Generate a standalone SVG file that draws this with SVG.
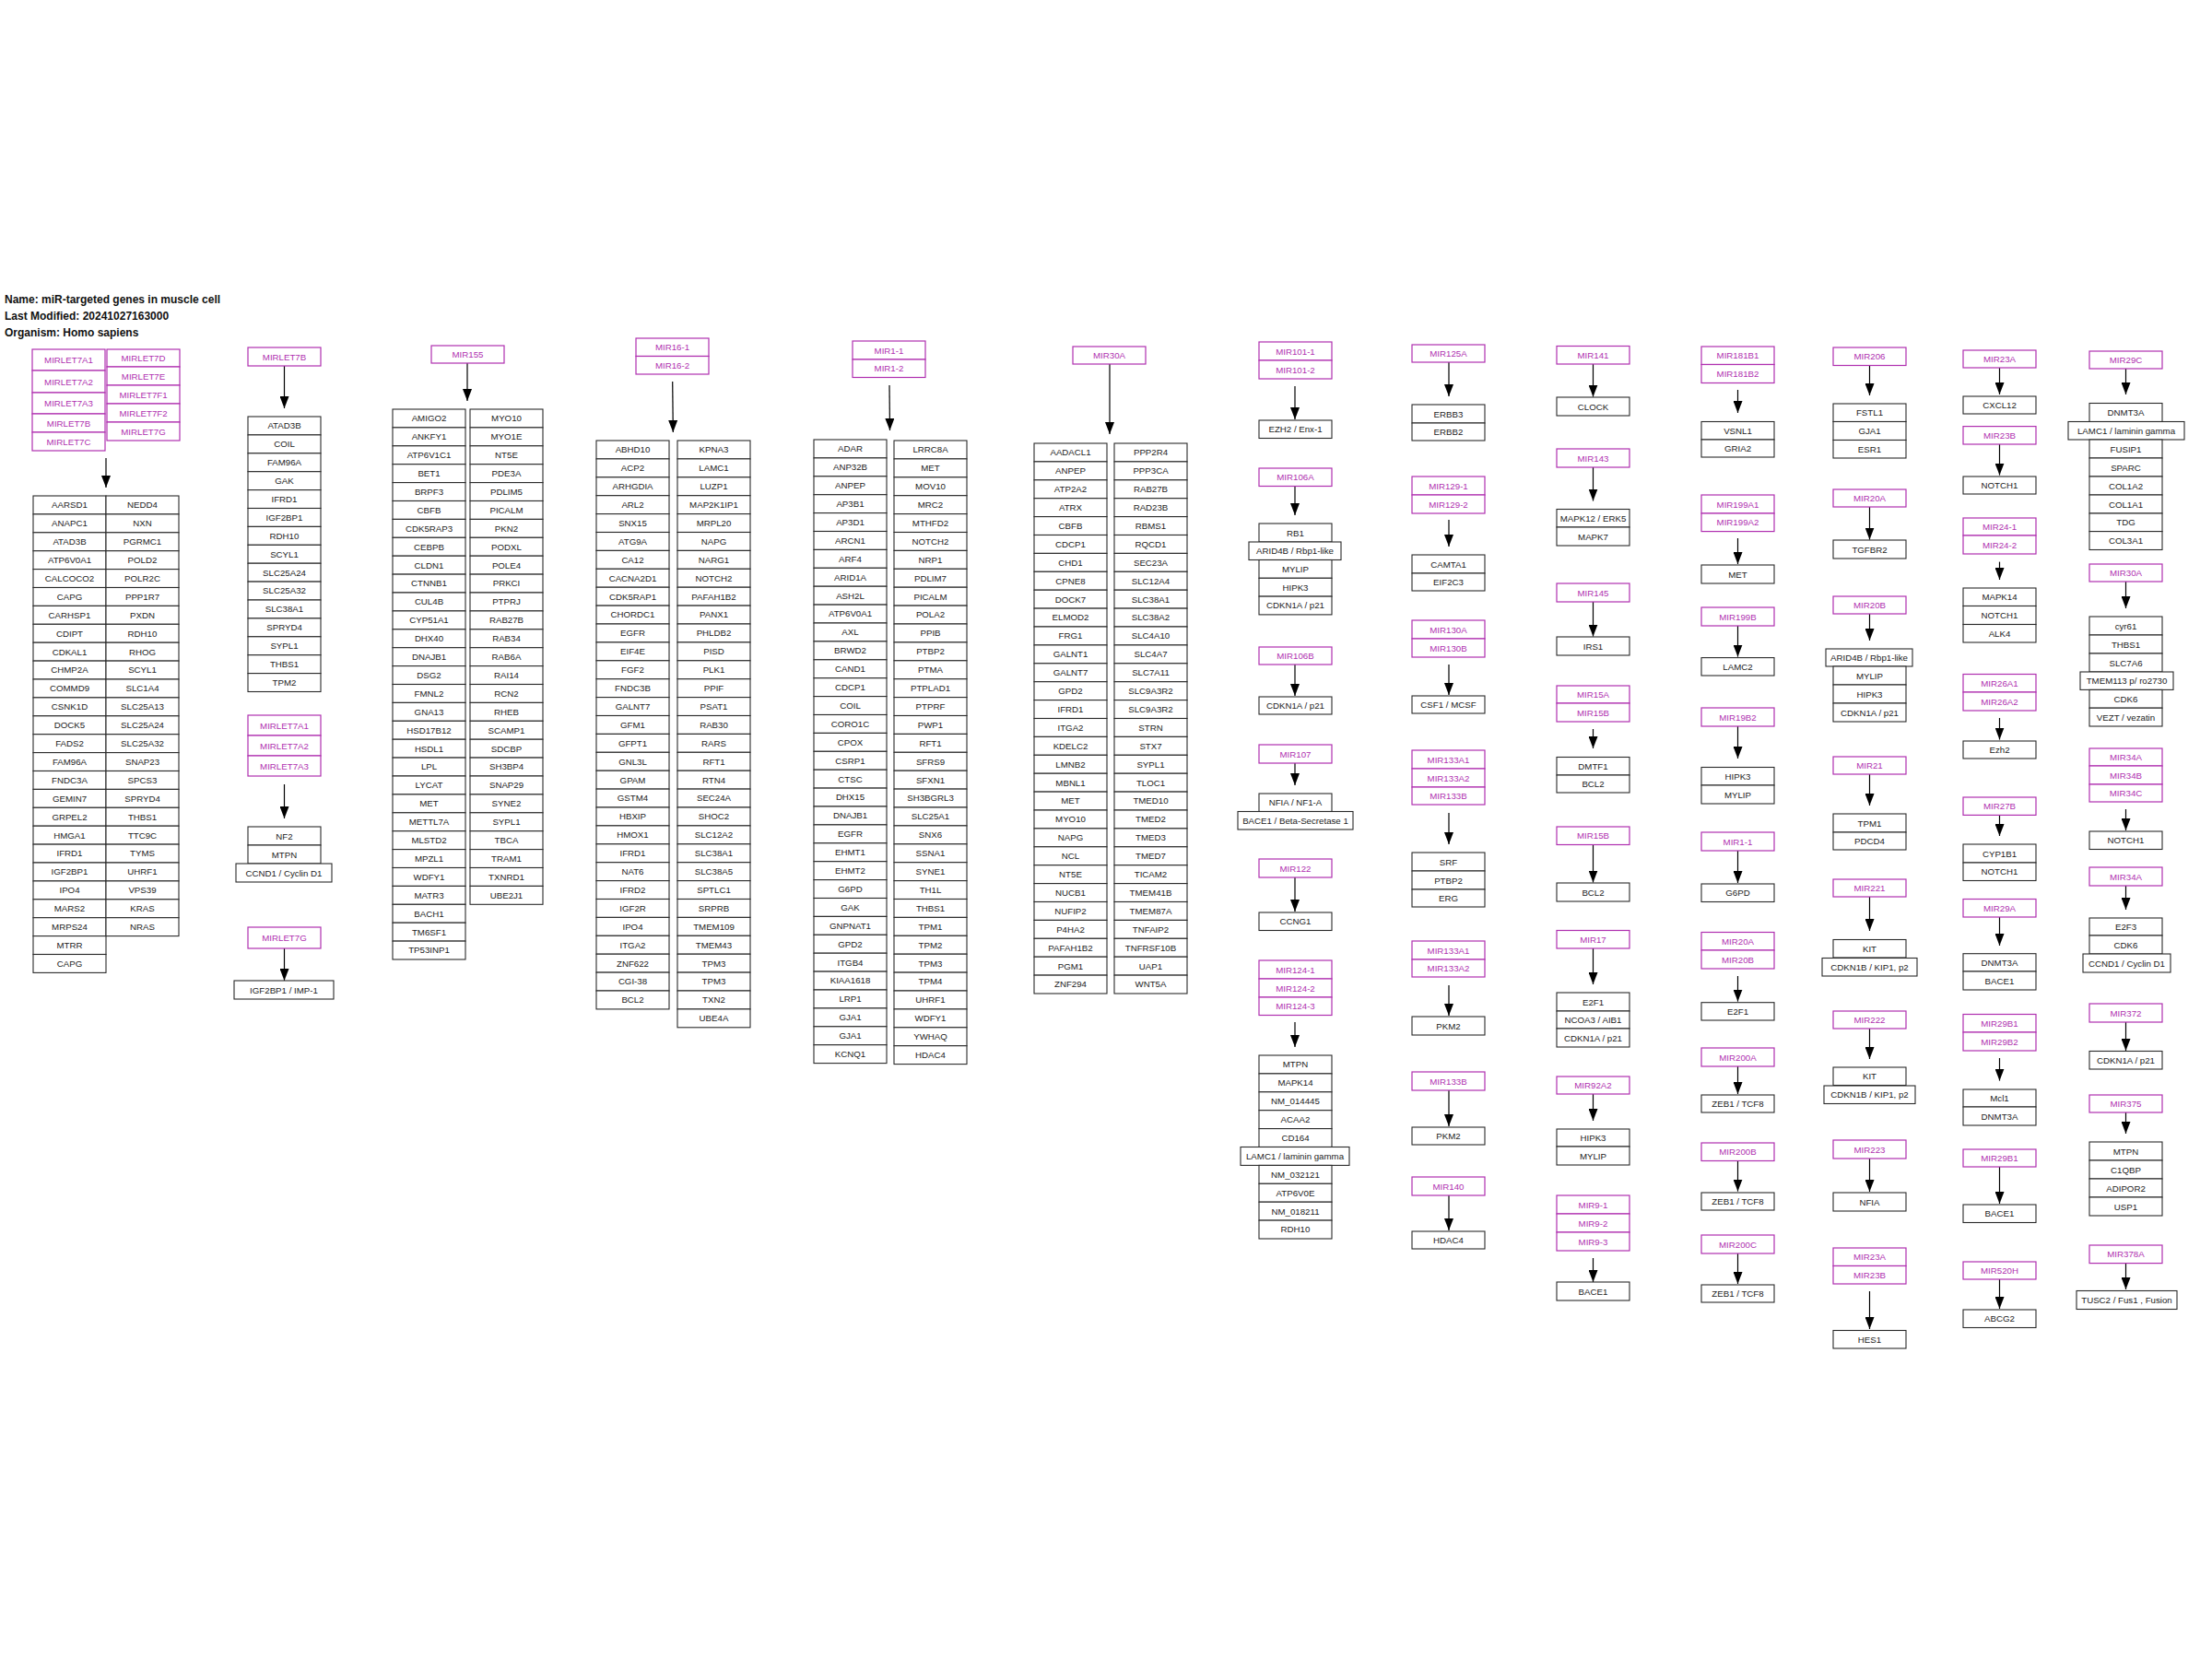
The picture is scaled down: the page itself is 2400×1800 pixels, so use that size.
<svg xmlns="http://www.w3.org/2000/svg" width="2400" height="1800" viewBox="0 0 2400 1800">
<style>
text{font-family:"Liberation Sans",Arial,sans-serif;font-size:9.7px;text-anchor:middle;fill:#222}
.mt{fill:#b030b0}
.g{fill:#fff;stroke:#2a2a2a;stroke-width:1.1}
.m{fill:#fff;stroke:#b030b0;stroke-width:1.2}
.c{fill:none;stroke:#000;stroke-width:1.2;marker-end:url(#ah)}
.h{font-size:12px;font-weight:bold;text-anchor:start;fill:#111}
</style>
<defs>
<marker id="ah" markerUnits="userSpaceOnUse" markerWidth="13" markerHeight="10" refX="13" refY="5" orient="auto"><path d="M0,0 L13,5 L0,10 z" fill="#000"/></marker>
</defs>
<rect width="2400" height="1800" fill="#fff"/>
<g id="info"><text class="h" x="5" y="329">Name: miR-targeted genes in muscle cell</text><text class="h" x="5" y="347">Last Modified: 20241027163000</text><text class="h" x="5" y="365">Organism: Homo sapiens</text></g>

<g id="connectors">
<line class="c" x1="115" y1="497" x2="115" y2="529"/>
<line class="c" x1="308.5" y1="397" x2="308.5" y2="443"/>
<line class="c" x1="308.5" y1="851" x2="308.5" y2="888"/>
<line class="c" x1="308.5" y1="1029" x2="308.5" y2="1064"/>
<line class="c" x1="507" y1="394" x2="507" y2="435"/>
<line class="c" x1="729.7" y1="414" x2="730.3" y2="469"/>
<line class="c" x1="965" y1="418" x2="965.5" y2="467"/>
<line class="c" x1="1204" y1="395" x2="1204" y2="471"/>
<line class="c" x1="1405" y1="419" x2="1405" y2="455"/>
<line class="c" x1="1405" y1="527" x2="1405" y2="559"/>
<line class="c" x1="1405" y1="721" x2="1405" y2="755"/>
<line class="c" x1="1405" y1="828" x2="1405" y2="852"/>
<line class="c" x1="1405" y1="952" x2="1405" y2="989"/>
<line class="c" x1="1405" y1="1109" x2="1405" y2="1136"/>
<line class="c" x1="1572" y1="393" x2="1572" y2="430"/>
<line class="c" x1="1572" y1="564" x2="1572" y2="593"/>
<line class="c" x1="1572" y1="721" x2="1572" y2="754"/>
<line class="c" x1="1572" y1="882" x2="1572" y2="916"/>
<line class="c" x1="1572" y1="1069" x2="1572" y2="1102"/>
<line class="c" x1="1572" y1="1183" x2="1572" y2="1222"/>
<line class="c" x1="1572" y1="1297" x2="1572" y2="1335"/>
<line class="c" x1="1728.5" y1="395" x2="1728.5" y2="430.6"/>
<line class="c" x1="1728.5" y1="507" x2="1728.5" y2="543.5"/>
<line class="c" x1="1728.5" y1="653" x2="1728.5" y2="690.6"/>
<line class="c" x1="1728.5" y1="791" x2="1728.5" y2="812"/>
<line class="c" x1="1728.5" y1="916.5" x2="1728.5" y2="957.5"/>
<line class="c" x1="1728.5" y1="1029" x2="1728.5" y2="1068"/>
<line class="c" x1="1728.5" y1="1187" x2="1728.5" y2="1216"/>
<line class="c" x1="1728.5" y1="1365" x2="1728.5" y2="1391"/>
<line class="c" x1="1885.5" y1="423" x2="1885.5" y2="448"/>
<line class="c" x1="1885.5" y1="584" x2="1885.5" y2="612"/>
<line class="c" x1="1885.5" y1="679" x2="1885.5" y2="712.6"/>
<line class="c" x1="1885.5" y1="788" x2="1885.5" y2="823"/>
<line class="c" x1="1885.5" y1="923" x2="1885.5" y2="958"/>
<line class="c" x1="1885.5" y1="1059" x2="1885.5" y2="1086.6"/>
<line class="c" x1="1885.5" y1="1157" x2="1885.5" y2="1187"/>
<line class="c" x1="1885.5" y1="1259.5" x2="1885.5" y2="1292.6"/>
<line class="c" x1="1885.5" y1="1360" x2="1885.5" y2="1393"/>
<line class="c" x1="2028.5" y1="396.5" x2="2028.5" y2="429"/>
<line class="c" x1="2028.5" y1="550" x2="2028.5" y2="585.5"/>
<line class="c" x1="2028.5" y1="666" x2="2028.5" y2="695"/>
<line class="c" x1="2028.5" y1="840" x2="2028.5" y2="874"/>
<line class="c" x1="2028.5" y1="973" x2="2028.5" y2="1010"/>
<line class="c" x1="2028.5" y1="1116" x2="2028.5" y2="1149"/>
<line class="c" x1="2028.5" y1="1257" x2="2028.5" y2="1293"/>
<line class="c" x1="2028.5" y1="1401" x2="2028.5" y2="1442"/>
<line class="c" x1="2169.5" y1="399" x2="2169.5" y2="428"/>
<line class="c" x1="2169.5" y1="482" x2="2169.5" y2="515.6"/>
<line class="c" x1="2169.5" y1="609.6" x2="2169.5" y2="629"/>
<line class="c" x1="2169.5" y1="779" x2="2169.5" y2="802.5"/>
<line class="c" x1="2169.5" y1="884.4" x2="2169.5" y2="907"/>
<line class="c" x1="2169.5" y1="995" x2="2169.5" y2="1026"/>
<line class="c" x1="2169.5" y1="1148" x2="2169.5" y2="1172.6"/>
<line class="c" x1="2169.5" y1="1266" x2="2169.5" y2="1306"/>
<line class="c" x1="2169.5" y1="1388" x2="2169.5" y2="1420"/>
<line class="c" x1="2306.5" y1="399" x2="2306.5" y2="428"/>
<line class="c" x1="2306.5" y1="631" x2="2306.5" y2="660"/>
<line class="c" x1="2306.5" y1="878" x2="2306.5" y2="901"/>
<line class="c" x1="2306.5" y1="961" x2="2306.5" y2="987"/>
<line class="c" x1="2306.5" y1="1109" x2="2306.5" y2="1140"/>
<line class="c" x1="2306.5" y1="1207" x2="2306.5" y2="1230"/>
<line class="c" x1="2306.5" y1="1370.6" x2="2306.5" y2="1399"/>
</g>

<!-- Column 1 miRNAs -->
<g id="m_let7a1" transform="translate(35,379)"><rect class="m" width="79" height="23"/><text class="mt" x="39.5" y="15">MIRLET7A1</text></g>
<g id="m_let7a2" transform="translate(35,402)"><rect class="m" width="79" height="24"/><text class="mt" x="39.5" y="15.5">MIRLET7A2</text></g>
<g id="m_let7a3" transform="translate(35,426)"><rect class="m" width="79" height="23"/><text class="mt" x="39.5" y="15">MIRLET7A3</text></g>
<g id="m_let7b" transform="translate(35,449)"><rect class="m" width="79" height="20"/><text class="mt" x="39.5" y="13.5">MIRLET7B</text></g>
<g id="m_let7c" transform="translate(35,469)"><rect class="m" width="79" height="20"/><text class="mt" x="39.5" y="13.5">MIRLET7C</text></g>
<g id="m_let7d" transform="translate(116,379)"><rect class="m" width="79" height="19"/><text class="mt" x="39.5" y="13">MIRLET7D</text></g>
<g id="m_let7e" transform="translate(116,398)"><rect class="m" width="79" height="20"/><text class="mt" x="39.5" y="13.5">MIRLET7E</text></g>
<g id="m_let7f1" transform="translate(116,418)"><rect class="m" width="79" height="20"/><text class="mt" x="39.5" y="13.5">MIRLET7F1</text></g>
<g id="m_let7f2" transform="translate(116,438)"><rect class="m" width="79" height="20"/><text class="mt" x="39.5" y="13.5">MIRLET7F2</text></g>
<g id="m_let7g" transform="translate(116,458)"><rect class="m" width="79" height="20"/><text class="mt" x="39.5" y="13.5">MIRLET7G</text></g>

<!-- Column 1 targets left -->
<g id="t1a0" transform="translate(36,538)"><rect class="g" width="79" height="19.9"/><text x="39.5" y="13.4">AARSD1</text></g>
<g id="t1a1" transform="translate(36,557.9)"><rect class="g" width="79" height="19.9"/><text x="39.5" y="13.4">ANAPC1</text></g>
<g id="t1a2" transform="translate(36,577.8)"><rect class="g" width="79" height="19.9"/><text x="39.5" y="13.4">ATAD3B</text></g>
<g id="t1a3" transform="translate(36,597.7)"><rect class="g" width="79" height="19.9"/><text x="39.5" y="13.4">ATP6V0A1</text></g>
<g id="t1a4" transform="translate(36,617.6)"><rect class="g" width="79" height="19.9"/><text x="39.5" y="13.4">CALCOCO2</text></g>
<g id="t1a5" transform="translate(36,637.5)"><rect class="g" width="79" height="19.9"/><text x="39.5" y="13.4">CAPG</text></g>
<g id="t1a6" transform="translate(36,657.4)"><rect class="g" width="79" height="19.9"/><text x="39.5" y="13.4">CARHSP1</text></g>
<g id="t1a7" transform="translate(36,677.3)"><rect class="g" width="79" height="19.9"/><text x="39.5" y="13.4">CDIPT</text></g>
<g id="t1a8" transform="translate(36,697.2)"><rect class="g" width="79" height="19.9"/><text x="39.5" y="13.4">CDKAL1</text></g>
<g id="t1a9" transform="translate(36,717.1)"><rect class="g" width="79" height="19.9"/><text x="39.5" y="13.4">CHMP2A</text></g>
<g id="t1a10" transform="translate(36,737)"><rect class="g" width="79" height="19.9"/><text x="39.5" y="13.4">COMMD9</text></g>
<g id="t1a11" transform="translate(36,756.9)"><rect class="g" width="79" height="19.9"/><text x="39.5" y="13.4">CSNK1D</text></g>
<g id="t1a12" transform="translate(36,776.8)"><rect class="g" width="79" height="19.9"/><text x="39.5" y="13.4">DOCK5</text></g>
<g id="t1a13" transform="translate(36,796.7)"><rect class="g" width="79" height="19.9"/><text x="39.5" y="13.4">FADS2</text></g>
<g id="t1a14" transform="translate(36,816.6)"><rect class="g" width="79" height="19.9"/><text x="39.5" y="13.4">FAM96A</text></g>
<g id="t1a15" transform="translate(36,836.5)"><rect class="g" width="79" height="19.9"/><text x="39.5" y="13.4">FNDC3A</text></g>
<g id="t1a16" transform="translate(36,856.4)"><rect class="g" width="79" height="19.9"/><text x="39.5" y="13.4">GEMIN7</text></g>
<g id="t1a17" transform="translate(36,876.3)"><rect class="g" width="79" height="19.9"/><text x="39.5" y="13.4">GRPEL2</text></g>
<g id="t1a18" transform="translate(36,896.2)"><rect class="g" width="79" height="19.9"/><text x="39.5" y="13.4">HMGA1</text></g>
<g id="t1a19" transform="translate(36,916.1)"><rect class="g" width="79" height="19.9"/><text x="39.5" y="13.4">IFRD1</text></g>
<g id="t1a20" transform="translate(36,936)"><rect class="g" width="79" height="19.9"/><text x="39.5" y="13.4">IGF2BP1</text></g>
<g id="t1a21" transform="translate(36,955.9)"><rect class="g" width="79" height="19.9"/><text x="39.5" y="13.4">IPO4</text></g>
<g id="t1a22" transform="translate(36,975.8)"><rect class="g" width="79" height="19.9"/><text x="39.5" y="13.4">MARS2</text></g>
<g id="t1a23" transform="translate(36,995.7)"><rect class="g" width="79" height="19.9"/><text x="39.5" y="13.4">MRPS24</text></g>
<g id="t1a24" transform="translate(36,1015.6)"><rect class="g" width="79" height="19.9"/><text x="39.5" y="13.4">MTRR</text></g>
<g id="t1a25" transform="translate(36,1035.5)"><rect class="g" width="79" height="19.9"/><text x="39.5" y="13.4">CAPG</text></g>
<!-- Column 1 targets right -->
<g id="t1b0" transform="translate(115,538)"><rect class="g" width="79" height="19.9"/><text x="39.5" y="13.4">NEDD4</text></g>
<g id="t1b1" transform="translate(115,557.9)"><rect class="g" width="79" height="19.9"/><text x="39.5" y="13.4">NXN</text></g>
<g id="t1b2" transform="translate(115,577.8)"><rect class="g" width="79" height="19.9"/><text x="39.5" y="13.4">PGRMC1</text></g>
<g id="t1b3" transform="translate(115,597.7)"><rect class="g" width="79" height="19.9"/><text x="39.5" y="13.4">POLD2</text></g>
<g id="t1b4" transform="translate(115,617.6)"><rect class="g" width="79" height="19.9"/><text x="39.5" y="13.4">POLR2C</text></g>
<g id="t1b5" transform="translate(115,637.5)"><rect class="g" width="79" height="19.9"/><text x="39.5" y="13.4">PPP1R7</text></g>
<g id="t1b6" transform="translate(115,657.4)"><rect class="g" width="79" height="19.9"/><text x="39.5" y="13.4">PXDN</text></g>
<g id="t1b7" transform="translate(115,677.3)"><rect class="g" width="79" height="19.9"/><text x="39.5" y="13.4">RDH10</text></g>
<g id="t1b8" transform="translate(115,697.2)"><rect class="g" width="79" height="19.9"/><text x="39.5" y="13.4">RHOG</text></g>
<g id="t1b9" transform="translate(115,717.1)"><rect class="g" width="79" height="19.9"/><text x="39.5" y="13.4">SCYL1</text></g>
<g id="t1b10" transform="translate(115,737)"><rect class="g" width="79" height="19.9"/><text x="39.5" y="13.4">SLC1A4</text></g>
<g id="t1b11" transform="translate(115,756.9)"><rect class="g" width="79" height="19.9"/><text x="39.5" y="13.4">SLC25A13</text></g>
<g id="t1b12" transform="translate(115,776.8)"><rect class="g" width="79" height="19.9"/><text x="39.5" y="13.4">SLC25A24</text></g>
<g id="t1b13" transform="translate(115,796.7)"><rect class="g" width="79" height="19.9"/><text x="39.5" y="13.4">SLC25A32</text></g>
<g id="t1b14" transform="translate(115,816.6)"><rect class="g" width="79" height="19.9"/><text x="39.5" y="13.4">SNAP23</text></g>
<g id="t1b15" transform="translate(115,836.5)"><rect class="g" width="79" height="19.9"/><text x="39.5" y="13.4">SPCS3</text></g>
<g id="t1b16" transform="translate(115,856.4)"><rect class="g" width="79" height="19.9"/><text x="39.5" y="13.4">SPRYD4</text></g>
<g id="t1b17" transform="translate(115,876.3)"><rect class="g" width="79" height="19.9"/><text x="39.5" y="13.4">THBS1</text></g>
<g id="t1b18" transform="translate(115,896.2)"><rect class="g" width="79" height="19.9"/><text x="39.5" y="13.4">TTC9C</text></g>
<g id="t1b19" transform="translate(115,916.1)"><rect class="g" width="79" height="19.9"/><text x="39.5" y="13.4">TYMS</text></g>
<g id="t1b20" transform="translate(115,936)"><rect class="g" width="79" height="19.9"/><text x="39.5" y="13.4">UHRF1</text></g>
<g id="t1b21" transform="translate(115,955.9)"><rect class="g" width="79" height="19.9"/><text x="39.5" y="13.4">VPS39</text></g>
<g id="t1b22" transform="translate(115,975.8)"><rect class="g" width="79" height="19.9"/><text x="39.5" y="13.4">KRAS</text></g>
<g id="t1b23" transform="translate(115,995.7)"><rect class="g" width="79" height="19.9"/><text x="39.5" y="13.4">NRAS</text></g>

<!-- Column 2 -->
<g id="m_let7b_2" transform="translate(269,377)"><rect class="m" width="79" height="20"/><text class="mt" x="39.5" y="13.5">MIRLET7B</text></g>
<g id="t2_0" transform="translate(269,452)"><rect class="g" width="79" height="19.9"/><text x="39.5" y="13.4">ATAD3B</text></g>
<g id="t2_1" transform="translate(269,471.9)"><rect class="g" width="79" height="19.9"/><text x="39.5" y="13.4">COIL</text></g>
<g id="t2_2" transform="translate(269,491.8)"><rect class="g" width="79" height="19.9"/><text x="39.5" y="13.4">FAM96A</text></g>
<g id="t2_3" transform="translate(269,511.7)"><rect class="g" width="79" height="19.9"/><text x="39.5" y="13.4">GAK</text></g>
<g id="t2_4" transform="translate(269,531.6)"><rect class="g" width="79" height="19.9"/><text x="39.5" y="13.4">IFRD1</text></g>
<g id="t2_5" transform="translate(269,551.5)"><rect class="g" width="79" height="19.9"/><text x="39.5" y="13.4">IGF2BP1</text></g>
<g id="t2_6" transform="translate(269,571.4)"><rect class="g" width="79" height="19.9"/><text x="39.5" y="13.4">RDH10</text></g>
<g id="t2_7" transform="translate(269,591.3)"><rect class="g" width="79" height="19.9"/><text x="39.5" y="13.4">SCYL1</text></g>
<g id="t2_8" transform="translate(269,611.2)"><rect class="g" width="79" height="19.9"/><text x="39.5" y="13.4">SLC25A24</text></g>
<g id="t2_9" transform="translate(269,631.1)"><rect class="g" width="79" height="19.9"/><text x="39.5" y="13.4">SLC25A32</text></g>
<g id="t2_10" transform="translate(269,651)"><rect class="g" width="79" height="19.9"/><text x="39.5" y="13.4">SLC38A1</text></g>
<g id="t2_11" transform="translate(269,670.9)"><rect class="g" width="79" height="19.9"/><text x="39.5" y="13.4">SPRYD4</text></g>
<g id="t2_12" transform="translate(269,690.8)"><rect class="g" width="79" height="19.9"/><text x="39.5" y="13.4">SYPL1</text></g>
<g id="t2_13" transform="translate(269,710.7)"><rect class="g" width="79" height="19.9"/><text x="39.5" y="13.4">THBS1</text></g>
<g id="t2_14" transform="translate(269,730.6)"><rect class="g" width="79" height="19.9"/><text x="39.5" y="13.4">TPM2</text></g>
<g id="m_let7a1_2" transform="translate(269,776)"><rect class="m" width="79" height="22"/><text class="mt" x="39.5" y="14.5">MIRLET7A1</text></g>
<g id="m_let7a2_2" transform="translate(269,798)"><rect class="m" width="79" height="22"/><text class="mt" x="39.5" y="14.5">MIRLET7A2</text></g>
<g id="m_let7a3_2" transform="translate(269,820)"><rect class="m" width="79" height="22"/><text class="mt" x="39.5" y="14.5">MIRLET7A3</text></g>
<g id="t2_nf2" transform="translate(269,897)"><rect class="g" width="79" height="20"/><text x="39.5" y="13.5">NF2</text></g>
<g id="t2_mtpn" transform="translate(269,917)"><rect class="g" width="79" height="20"/><text x="39.5" y="13.5">MTPN</text></g>
<g id="t2_ccnd1" transform="translate(256,937)"><rect class="g" width="104" height="20"/><text x="52" y="13.5">CCND1 / Cyclin D1</text></g>
<g id="m_let7g_2" transform="translate(269,1006)"><rect class="m" width="79" height="23"/><text class="mt" x="39.5" y="15">MIRLET7G</text></g>
<g id="t2_igf2bp1" transform="translate(254,1064)"><rect class="g" width="108" height="20"/><text x="54" y="13.5">IGF2BP1 / IMP-1</text></g>

<!-- Column 3 -->
<g id="m_155" transform="translate(468,375)"><rect class="m" width="79" height="19"/><text class="mt" x="39.5" y="13">MIR155</text></g>
<g id="t3a0" transform="translate(426,444)"><rect class="g" width="79" height="19.9"/><text x="39.5" y="13.4">AMIGO2</text></g>
<g id="t3a1" transform="translate(426,463.9)"><rect class="g" width="79" height="19.9"/><text x="39.5" y="13.4">ANKFY1</text></g>
<g id="t3a2" transform="translate(426,483.8)"><rect class="g" width="79" height="19.9"/><text x="39.5" y="13.4">ATP6V1C1</text></g>
<g id="t3a3" transform="translate(426,503.7)"><rect class="g" width="79" height="19.9"/><text x="39.5" y="13.4">BET1</text></g>
<g id="t3a4" transform="translate(426,523.6)"><rect class="g" width="79" height="19.9"/><text x="39.5" y="13.4">BRPF3</text></g>
<g id="t3a5" transform="translate(426,543.5)"><rect class="g" width="79" height="19.9"/><text x="39.5" y="13.4">CBFB</text></g>
<g id="t3a6" transform="translate(426,563.4)"><rect class="g" width="79" height="19.9"/><text x="39.5" y="13.4">CDK5RAP3</text></g>
<g id="t3a7" transform="translate(426,583.3)"><rect class="g" width="79" height="19.9"/><text x="39.5" y="13.4">CEBPB</text></g>
<g id="t3a8" transform="translate(426,603.2)"><rect class="g" width="79" height="19.9"/><text x="39.5" y="13.4">CLDN1</text></g>
<g id="t3a9" transform="translate(426,623.1)"><rect class="g" width="79" height="19.9"/><text x="39.5" y="13.4">CTNNB1</text></g>
<g id="t3a10" transform="translate(426,643)"><rect class="g" width="79" height="19.9"/><text x="39.5" y="13.4">CUL4B</text></g>
<g id="t3a11" transform="translate(426,662.9)"><rect class="g" width="79" height="19.9"/><text x="39.5" y="13.4">CYP51A1</text></g>
<g id="t3a12" transform="translate(426,682.8)"><rect class="g" width="79" height="19.9"/><text x="39.5" y="13.4">DHX40</text></g>
<g id="t3a13" transform="translate(426,702.7)"><rect class="g" width="79" height="19.9"/><text x="39.5" y="13.4">DNAJB1</text></g>
<g id="t3a14" transform="translate(426,722.6)"><rect class="g" width="79" height="19.9"/><text x="39.5" y="13.4">DSG2</text></g>
<g id="t3a15" transform="translate(426,742.5)"><rect class="g" width="79" height="19.9"/><text x="39.5" y="13.4">FMNL2</text></g>
<g id="t3a16" transform="translate(426,762.4)"><rect class="g" width="79" height="19.9"/><text x="39.5" y="13.4">GNA13</text></g>
<g id="t3a17" transform="translate(426,782.3)"><rect class="g" width="79" height="19.9"/><text x="39.5" y="13.4">HSD17B12</text></g>
<g id="t3a18" transform="translate(426,802.2)"><rect class="g" width="79" height="19.9"/><text x="39.5" y="13.4">HSDL1</text></g>
<g id="t3a19" transform="translate(426,822.1)"><rect class="g" width="79" height="19.9"/><text x="39.5" y="13.4">LPL</text></g>
<g id="t3a20" transform="translate(426,842)"><rect class="g" width="79" height="19.9"/><text x="39.5" y="13.4">LYCAT</text></g>
<g id="t3a21" transform="translate(426,861.9)"><rect class="g" width="79" height="19.9"/><text x="39.5" y="13.4">MET</text></g>
<g id="t3a22" transform="translate(426,881.8)"><rect class="g" width="79" height="19.9"/><text x="39.5" y="13.4">METTL7A</text></g>
<g id="t3a23" transform="translate(426,901.7)"><rect class="g" width="79" height="19.9"/><text x="39.5" y="13.4">MLSTD2</text></g>
<g id="t3a24" transform="translate(426,921.6)"><rect class="g" width="79" height="19.9"/><text x="39.5" y="13.4">MPZL1</text></g>
<g id="t3a25" transform="translate(426,941.5)"><rect class="g" width="79" height="19.9"/><text x="39.5" y="13.4">WDFY1</text></g>
<g id="t3a26" transform="translate(426,961.4)"><rect class="g" width="79" height="19.9"/><text x="39.5" y="13.4">MATR3</text></g>
<g id="t3a27" transform="translate(426,981.3)"><rect class="g" width="79" height="19.9"/><text x="39.5" y="13.4">BACH1</text></g>
<g id="t3a28" transform="translate(426,1001.2)"><rect class="g" width="79" height="19.9"/><text x="39.5" y="13.4">TM6SF1</text></g>
<g id="t3a29" transform="translate(426,1021.1)"><rect class="g" width="79" height="19.9"/><text x="39.5" y="13.4">TP53INP1</text></g>
<g id="t3b0" transform="translate(510,444)"><rect class="g" width="79" height="19.9"/><text x="39.5" y="13.4">MYO10</text></g>
<g id="t3b1" transform="translate(510,463.9)"><rect class="g" width="79" height="19.9"/><text x="39.5" y="13.4">MYO1E</text></g>
<g id="t3b2" transform="translate(510,483.8)"><rect class="g" width="79" height="19.9"/><text x="39.5" y="13.4">NT5E</text></g>
<g id="t3b3" transform="translate(510,503.7)"><rect class="g" width="79" height="19.9"/><text x="39.5" y="13.4">PDE3A</text></g>
<g id="t3b4" transform="translate(510,523.6)"><rect class="g" width="79" height="19.9"/><text x="39.5" y="13.4">PDLIM5</text></g>
<g id="t3b5" transform="translate(510,543.5)"><rect class="g" width="79" height="19.9"/><text x="39.5" y="13.4">PICALM</text></g>
<g id="t3b6" transform="translate(510,563.4)"><rect class="g" width="79" height="19.9"/><text x="39.5" y="13.4">PKN2</text></g>
<g id="t3b7" transform="translate(510,583.3)"><rect class="g" width="79" height="19.9"/><text x="39.5" y="13.4">PODXL</text></g>
<g id="t3b8" transform="translate(510,603.2)"><rect class="g" width="79" height="19.9"/><text x="39.5" y="13.4">POLE4</text></g>
<g id="t3b9" transform="translate(510,623.1)"><rect class="g" width="79" height="19.9"/><text x="39.5" y="13.4">PRKCI</text></g>
<g id="t3b10" transform="translate(510,643)"><rect class="g" width="79" height="19.9"/><text x="39.5" y="13.4">PTPRJ</text></g>
<g id="t3b11" transform="translate(510,662.9)"><rect class="g" width="79" height="19.9"/><text x="39.5" y="13.4">RAB27B</text></g>
<g id="t3b12" transform="translate(510,682.8)"><rect class="g" width="79" height="19.9"/><text x="39.5" y="13.4">RAB34</text></g>
<g id="t3b13" transform="translate(510,702.7)"><rect class="g" width="79" height="19.9"/><text x="39.5" y="13.4">RAB6A</text></g>
<g id="t3b14" transform="translate(510,722.6)"><rect class="g" width="79" height="19.9"/><text x="39.5" y="13.4">RAI14</text></g>
<g id="t3b15" transform="translate(510,742.5)"><rect class="g" width="79" height="19.9"/><text x="39.5" y="13.4">RCN2</text></g>
<g id="t3b16" transform="translate(510,762.4)"><rect class="g" width="79" height="19.9"/><text x="39.5" y="13.4">RHEB</text></g>
<g id="t3b17" transform="translate(510,782.3)"><rect class="g" width="79" height="19.9"/><text x="39.5" y="13.4">SCAMP1</text></g>
<g id="t3b18" transform="translate(510,802.2)"><rect class="g" width="79" height="19.9"/><text x="39.5" y="13.4">SDCBP</text></g>
<g id="t3b19" transform="translate(510,822.1)"><rect class="g" width="79" height="19.9"/><text x="39.5" y="13.4">SH3BP4</text></g>
<g id="t3b20" transform="translate(510,842)"><rect class="g" width="79" height="19.9"/><text x="39.5" y="13.4">SNAP29</text></g>
<g id="t3b21" transform="translate(510,861.9)"><rect class="g" width="79" height="19.9"/><text x="39.5" y="13.4">SYNE2</text></g>
<g id="t3b22" transform="translate(510,881.8)"><rect class="g" width="79" height="19.9"/><text x="39.5" y="13.4">SYPL1</text></g>
<g id="t3b23" transform="translate(510,901.7)"><rect class="g" width="79" height="19.9"/><text x="39.5" y="13.4">TBCA</text></g>
<g id="t3b24" transform="translate(510,921.6)"><rect class="g" width="79" height="19.9"/><text x="39.5" y="13.4">TRAM1</text></g>
<g id="t3b25" transform="translate(510,941.5)"><rect class="g" width="79" height="19.9"/><text x="39.5" y="13.4">TXNRD1</text></g>
<g id="t3b26" transform="translate(510,961.4)"><rect class="g" width="79" height="19.9"/><text x="39.5" y="13.4">UBE2J1</text></g>

<!-- Column 4 -->
<g id="m_16_1" transform="translate(690,367)"><rect class="m" width="79" height="19.5"/><text class="mt" x="39.5" y="13.2">MIR16-1</text></g>
<g id="m_16_2" transform="translate(690,386.5)"><rect class="m" width="79" height="19.5"/><text class="mt" x="39.5" y="13.2">MIR16-2</text></g>
<g id="t4a0" transform="translate(647,478)"><rect class="g" width="79" height="19.9"/><text x="39.5" y="13.4">ABHD10</text></g>
<g id="t4a1" transform="translate(647,497.9)"><rect class="g" width="79" height="19.9"/><text x="39.5" y="13.4">ACP2</text></g>
<g id="t4a2" transform="translate(647,517.8)"><rect class="g" width="79" height="19.9"/><text x="39.5" y="13.4">ARHGDIA</text></g>
<g id="t4a3" transform="translate(647,537.7)"><rect class="g" width="79" height="19.9"/><text x="39.5" y="13.4">ARL2</text></g>
<g id="t4a4" transform="translate(647,557.6)"><rect class="g" width="79" height="19.9"/><text x="39.5" y="13.4">SNX15</text></g>
<g id="t4a5" transform="translate(647,577.5)"><rect class="g" width="79" height="19.9"/><text x="39.5" y="13.4">ATG9A</text></g>
<g id="t4a6" transform="translate(647,597.4)"><rect class="g" width="79" height="19.9"/><text x="39.5" y="13.4">CA12</text></g>
<g id="t4a7" transform="translate(647,617.3)"><rect class="g" width="79" height="19.9"/><text x="39.5" y="13.4">CACNA2D1</text></g>
<g id="t4a8" transform="translate(647,637.2)"><rect class="g" width="79" height="19.9"/><text x="39.5" y="13.4">CDK5RAP1</text></g>
<g id="t4a9" transform="translate(647,657.1)"><rect class="g" width="79" height="19.9"/><text x="39.5" y="13.4">CHORDC1</text></g>
<g id="t4a10" transform="translate(647,677)"><rect class="g" width="79" height="19.9"/><text x="39.5" y="13.4">EGFR</text></g>
<g id="t4a11" transform="translate(647,696.9)"><rect class="g" width="79" height="19.9"/><text x="39.5" y="13.4">EIF4E</text></g>
<g id="t4a12" transform="translate(647,716.8)"><rect class="g" width="79" height="19.9"/><text x="39.5" y="13.4">FGF2</text></g>
<g id="t4a13" transform="translate(647,736.7)"><rect class="g" width="79" height="19.9"/><text x="39.5" y="13.4">FNDC3B</text></g>
<g id="t4a14" transform="translate(647,756.6)"><rect class="g" width="79" height="19.9"/><text x="39.5" y="13.4">GALNT7</text></g>
<g id="t4a15" transform="translate(647,776.5)"><rect class="g" width="79" height="19.9"/><text x="39.5" y="13.4">GFM1</text></g>
<g id="t4a16" transform="translate(647,796.4)"><rect class="g" width="79" height="19.9"/><text x="39.5" y="13.4">GFPT1</text></g>
<g id="t4a17" transform="translate(647,816.3)"><rect class="g" width="79" height="19.9"/><text x="39.5" y="13.4">GNL3L</text></g>
<g id="t4a18" transform="translate(647,836.2)"><rect class="g" width="79" height="19.9"/><text x="39.5" y="13.4">GPAM</text></g>
<g id="t4a19" transform="translate(647,856.1)"><rect class="g" width="79" height="19.9"/><text x="39.5" y="13.4">GSTM4</text></g>
<g id="t4a20" transform="translate(647,876)"><rect class="g" width="79" height="19.9"/><text x="39.5" y="13.4">HBXIP</text></g>
<g id="t4a21" transform="translate(647,895.9)"><rect class="g" width="79" height="19.9"/><text x="39.5" y="13.4">HMOX1</text></g>
<g id="t4a22" transform="translate(647,915.8)"><rect class="g" width="79" height="19.9"/><text x="39.5" y="13.4">IFRD1</text></g>
<g id="t4a23" transform="translate(647,935.7)"><rect class="g" width="79" height="19.9"/><text x="39.5" y="13.4">NAT6</text></g>
<g id="t4a24" transform="translate(647,955.6)"><rect class="g" width="79" height="19.9"/><text x="39.5" y="13.4">IFRD2</text></g>
<g id="t4a25" transform="translate(647,975.5)"><rect class="g" width="79" height="19.9"/><text x="39.5" y="13.4">IGF2R</text></g>
<g id="t4a26" transform="translate(647,995.4)"><rect class="g" width="79" height="19.9"/><text x="39.5" y="13.4">IPO4</text></g>
<g id="t4a27" transform="translate(647,1015.3)"><rect class="g" width="79" height="19.9"/><text x="39.5" y="13.4">ITGA2</text></g>
<g id="t4a28" transform="translate(647,1035.2)"><rect class="g" width="79" height="19.9"/><text x="39.5" y="13.4">ZNF622</text></g>
<g id="t4a29" transform="translate(647,1055.1)"><rect class="g" width="79" height="19.9"/><text x="39.5" y="13.4">CGI-38</text></g>
<g id="t4a30" transform="translate(647,1075)"><rect class="g" width="79" height="19.9"/><text x="39.5" y="13.4">BCL2</text></g>
<g id="t4b0" transform="translate(735,478)"><rect class="g" width="79" height="19.9"/><text x="39.5" y="13.4">KPNA3</text></g>
<g id="t4b1" transform="translate(735,497.9)"><rect class="g" width="79" height="19.9"/><text x="39.5" y="13.4">LAMC1</text></g>
<g id="t4b2" transform="translate(735,517.8)"><rect class="g" width="79" height="19.9"/><text x="39.5" y="13.4">LUZP1</text></g>
<g id="t4b3" transform="translate(735,537.7)"><rect class="g" width="79" height="19.9"/><text x="39.5" y="13.4">MAP2K1IP1</text></g>
<g id="t4b4" transform="translate(735,557.6)"><rect class="g" width="79" height="19.9"/><text x="39.5" y="13.4">MRPL20</text></g>
<g id="t4b5" transform="translate(735,577.5)"><rect class="g" width="79" height="19.9"/><text x="39.5" y="13.4">NAPG</text></g>
<g id="t4b6" transform="translate(735,597.4)"><rect class="g" width="79" height="19.9"/><text x="39.5" y="13.4">NARG1</text></g>
<g id="t4b7" transform="translate(735,617.3)"><rect class="g" width="79" height="19.9"/><text x="39.5" y="13.4">NOTCH2</text></g>
<g id="t4b8" transform="translate(735,637.2)"><rect class="g" width="79" height="19.9"/><text x="39.5" y="13.4">PAFAH1B2</text></g>
<g id="t4b9" transform="translate(735,657.1)"><rect class="g" width="79" height="19.9"/><text x="39.5" y="13.4">PANX1</text></g>
<g id="t4b10" transform="translate(735,677)"><rect class="g" width="79" height="19.9"/><text x="39.5" y="13.4">PHLDB2</text></g>
<g id="t4b11" transform="translate(735,696.9)"><rect class="g" width="79" height="19.9"/><text x="39.5" y="13.4">PISD</text></g>
<g id="t4b12" transform="translate(735,716.8)"><rect class="g" width="79" height="19.9"/><text x="39.5" y="13.4">PLK1</text></g>
<g id="t4b13" transform="translate(735,736.7)"><rect class="g" width="79" height="19.9"/><text x="39.5" y="13.4">PPIF</text></g>
<g id="t4b14" transform="translate(735,756.6)"><rect class="g" width="79" height="19.9"/><text x="39.5" y="13.4">PSAT1</text></g>
<g id="t4b15" transform="translate(735,776.5)"><rect class="g" width="79" height="19.9"/><text x="39.5" y="13.4">RAB30</text></g>
<g id="t4b16" transform="translate(735,796.4)"><rect class="g" width="79" height="19.9"/><text x="39.5" y="13.4">RARS</text></g>
<g id="t4b17" transform="translate(735,816.3)"><rect class="g" width="79" height="19.9"/><text x="39.5" y="13.4">RFT1</text></g>
<g id="t4b18" transform="translate(735,836.2)"><rect class="g" width="79" height="19.9"/><text x="39.5" y="13.4">RTN4</text></g>
<g id="t4b19" transform="translate(735,856.1)"><rect class="g" width="79" height="19.9"/><text x="39.5" y="13.4">SEC24A</text></g>
<g id="t4b20" transform="translate(735,876)"><rect class="g" width="79" height="19.9"/><text x="39.5" y="13.4">SHOC2</text></g>
<g id="t4b21" transform="translate(735,895.9)"><rect class="g" width="79" height="19.9"/><text x="39.5" y="13.4">SLC12A2</text></g>
<g id="t4b22" transform="translate(735,915.8)"><rect class="g" width="79" height="19.9"/><text x="39.5" y="13.4">SLC38A1</text></g>
<g id="t4b23" transform="translate(735,935.7)"><rect class="g" width="79" height="19.9"/><text x="39.5" y="13.4">SLC38A5</text></g>
<g id="t4b24" transform="translate(735,955.6)"><rect class="g" width="79" height="19.9"/><text x="39.5" y="13.4">SPTLC1</text></g>
<g id="t4b25" transform="translate(735,975.5)"><rect class="g" width="79" height="19.9"/><text x="39.5" y="13.4">SRPRB</text></g>
<g id="t4b26" transform="translate(735,995.4)"><rect class="g" width="79" height="19.9"/><text x="39.5" y="13.4">TMEM109</text></g>
<g id="t4b27" transform="translate(735,1015.3)"><rect class="g" width="79" height="19.9"/><text x="39.5" y="13.4">TMEM43</text></g>
<g id="t4b28" transform="translate(735,1035.2)"><rect class="g" width="79" height="19.9"/><text x="39.5" y="13.4">TPM3</text></g>
<g id="t4b29" transform="translate(735,1055.1)"><rect class="g" width="79" height="19.9"/><text x="39.5" y="13.4">TPM3</text></g>
<g id="t4b30" transform="translate(735,1075)"><rect class="g" width="79" height="19.9"/><text x="39.5" y="13.4">TXN2</text></g>
<g id="t4b31" transform="translate(735,1094.9)"><rect class="g" width="79" height="19.9"/><text x="39.5" y="13.4">UBE4A</text></g>

<!-- Column 5 -->
<g id="m_1_1" transform="translate(925,370)"><rect class="m" width="79" height="20"/><text class="mt" x="39.5" y="13.5">MIR1-1</text></g>
<g id="m_1_2" transform="translate(925,390)"><rect class="m" width="79" height="19.5"/><text class="mt" x="39.5" y="13.2">MIR1-2</text></g>
<g id="t5a0" transform="translate(883,477)"><rect class="g" width="79" height="19.9"/><text x="39.5" y="13.4">ADAR</text></g>
<g id="t5a1" transform="translate(883,496.9)"><rect class="g" width="79" height="19.9"/><text x="39.5" y="13.4">ANP32B</text></g>
<g id="t5a2" transform="translate(883,516.8)"><rect class="g" width="79" height="19.9"/><text x="39.5" y="13.4">ANPEP</text></g>
<g id="t5a3" transform="translate(883,536.7)"><rect class="g" width="79" height="19.9"/><text x="39.5" y="13.4">AP3B1</text></g>
<g id="t5a4" transform="translate(883,556.6)"><rect class="g" width="79" height="19.9"/><text x="39.5" y="13.4">AP3D1</text></g>
<g id="t5a5" transform="translate(883,576.5)"><rect class="g" width="79" height="19.9"/><text x="39.5" y="13.4">ARCN1</text></g>
<g id="t5a6" transform="translate(883,596.4)"><rect class="g" width="79" height="19.9"/><text x="39.5" y="13.4">ARF4</text></g>
<g id="t5a7" transform="translate(883,616.3)"><rect class="g" width="79" height="19.9"/><text x="39.5" y="13.4">ARID1A</text></g>
<g id="t5a8" transform="translate(883,636.2)"><rect class="g" width="79" height="19.9"/><text x="39.5" y="13.4">ASH2L</text></g>
<g id="t5a9" transform="translate(883,656.1)"><rect class="g" width="79" height="19.9"/><text x="39.5" y="13.4">ATP6V0A1</text></g>
<g id="t5a10" transform="translate(883,676)"><rect class="g" width="79" height="19.9"/><text x="39.5" y="13.4">AXL</text></g>
<g id="t5a11" transform="translate(883,695.9)"><rect class="g" width="79" height="19.9"/><text x="39.5" y="13.4">BRWD2</text></g>
<g id="t5a12" transform="translate(883,715.8)"><rect class="g" width="79" height="19.9"/><text x="39.5" y="13.4">CAND1</text></g>
<g id="t5a13" transform="translate(883,735.7)"><rect class="g" width="79" height="19.9"/><text x="39.5" y="13.4">CDCP1</text></g>
<g id="t5a14" transform="translate(883,755.6)"><rect class="g" width="79" height="19.9"/><text x="39.5" y="13.4">COIL</text></g>
<g id="t5a15" transform="translate(883,775.5)"><rect class="g" width="79" height="19.9"/><text x="39.5" y="13.4">CORO1C</text></g>
<g id="t5a16" transform="translate(883,795.4)"><rect class="g" width="79" height="19.9"/><text x="39.5" y="13.4">CPOX</text></g>
<g id="t5a17" transform="translate(883,815.3)"><rect class="g" width="79" height="19.9"/><text x="39.5" y="13.4">CSRP1</text></g>
<g id="t5a18" transform="translate(883,835.2)"><rect class="g" width="79" height="19.9"/><text x="39.5" y="13.4">CTSC</text></g>
<g id="t5a19" transform="translate(883,855.1)"><rect class="g" width="79" height="19.9"/><text x="39.5" y="13.4">DHX15</text></g>
<g id="t5a20" transform="translate(883,875)"><rect class="g" width="79" height="19.9"/><text x="39.5" y="13.4">DNAJB1</text></g>
<g id="t5a21" transform="translate(883,894.9)"><rect class="g" width="79" height="19.9"/><text x="39.5" y="13.4">EGFR</text></g>
<g id="t5a22" transform="translate(883,914.8)"><rect class="g" width="79" height="19.9"/><text x="39.5" y="13.4">EHMT1</text></g>
<g id="t5a23" transform="translate(883,934.7)"><rect class="g" width="79" height="19.9"/><text x="39.5" y="13.4">EHMT2</text></g>
<g id="t5a24" transform="translate(883,954.6)"><rect class="g" width="79" height="19.9"/><text x="39.5" y="13.4">G6PD</text></g>
<g id="t5a25" transform="translate(883,974.5)"><rect class="g" width="79" height="19.9"/><text x="39.5" y="13.4">GAK</text></g>
<g id="t5a26" transform="translate(883,994.4)"><rect class="g" width="79" height="19.9"/><text x="39.5" y="13.4">GNPNAT1</text></g>
<g id="t5a27" transform="translate(883,1014.3)"><rect class="g" width="79" height="19.9"/><text x="39.5" y="13.4">GPD2</text></g>
<g id="t5a28" transform="translate(883,1034.2)"><rect class="g" width="79" height="19.9"/><text x="39.5" y="13.4">ITGB4</text></g>
<g id="t5a29" transform="translate(883,1054.1)"><rect class="g" width="79" height="19.9"/><text x="39.5" y="13.4">KIAA1618</text></g>
<g id="t5a30" transform="translate(883,1074)"><rect class="g" width="79" height="19.9"/><text x="39.5" y="13.4">LRP1</text></g>
<g id="t5a31" transform="translate(883,1093.9)"><rect class="g" width="79" height="19.9"/><text x="39.5" y="13.4">GJA1</text></g>
<g id="t5a32" transform="translate(883,1113.8)"><rect class="g" width="79" height="19.9"/><text x="39.5" y="13.4">GJA1</text></g>
<g id="t5a33" transform="translate(883,1133.7)"><rect class="g" width="79" height="19.9"/><text x="39.5" y="13.4">KCNQ1</text></g>
<g id="t5b0" transform="translate(970,478)"><rect class="g" width="79" height="19.9"/><text x="39.5" y="13.4">LRRC8A</text></g>
<g id="t5b1" transform="translate(970,497.9)"><rect class="g" width="79" height="19.9"/><text x="39.5" y="13.4">MET</text></g>
<g id="t5b2" transform="translate(970,517.8)"><rect class="g" width="79" height="19.9"/><text x="39.5" y="13.4">MOV10</text></g>
<g id="t5b3" transform="translate(970,537.7)"><rect class="g" width="79" height="19.9"/><text x="39.5" y="13.4">MRC2</text></g>
<g id="t5b4" transform="translate(970,557.6)"><rect class="g" width="79" height="19.9"/><text x="39.5" y="13.4">MTHFD2</text></g>
<g id="t5b5" transform="translate(970,577.5)"><rect class="g" width="79" height="19.9"/><text x="39.5" y="13.4">NOTCH2</text></g>
<g id="t5b6" transform="translate(970,597.4)"><rect class="g" width="79" height="19.9"/><text x="39.5" y="13.4">NRP1</text></g>
<g id="t5b7" transform="translate(970,617.3)"><rect class="g" width="79" height="19.9"/><text x="39.5" y="13.4">PDLIM7</text></g>
<g id="t5b8" transform="translate(970,637.2)"><rect class="g" width="79" height="19.9"/><text x="39.5" y="13.4">PICALM</text></g>
<g id="t5b9" transform="translate(970,657.1)"><rect class="g" width="79" height="19.9"/><text x="39.5" y="13.4">POLA2</text></g>
<g id="t5b10" transform="translate(970,677)"><rect class="g" width="79" height="19.9"/><text x="39.5" y="13.4">PPIB</text></g>
<g id="t5b11" transform="translate(970,696.9)"><rect class="g" width="79" height="19.9"/><text x="39.5" y="13.4">PTBP2</text></g>
<g id="t5b12" transform="translate(970,716.8)"><rect class="g" width="79" height="19.9"/><text x="39.5" y="13.4">PTMA</text></g>
<g id="t5b13" transform="translate(970,736.7)"><rect class="g" width="79" height="19.9"/><text x="39.5" y="13.4">PTPLAD1</text></g>
<g id="t5b14" transform="translate(970,756.6)"><rect class="g" width="79" height="19.9"/><text x="39.5" y="13.4">PTPRF</text></g>
<g id="t5b15" transform="translate(970,776.5)"><rect class="g" width="79" height="19.9"/><text x="39.5" y="13.4">PWP1</text></g>
<g id="t5b16" transform="translate(970,796.4)"><rect class="g" width="79" height="19.9"/><text x="39.5" y="13.4">RFT1</text></g>
<g id="t5b17" transform="translate(970,816.3)"><rect class="g" width="79" height="19.9"/><text x="39.5" y="13.4">SFRS9</text></g>
<g id="t5b18" transform="translate(970,836.2)"><rect class="g" width="79" height="19.9"/><text x="39.5" y="13.4">SFXN1</text></g>
<g id="t5b19" transform="translate(970,856.1)"><rect class="g" width="79" height="19.9"/><text x="39.5" y="13.4">SH3BGRL3</text></g>
<g id="t5b20" transform="translate(970,876)"><rect class="g" width="79" height="19.9"/><text x="39.5" y="13.4">SLC25A1</text></g>
<g id="t5b21" transform="translate(970,895.9)"><rect class="g" width="79" height="19.9"/><text x="39.5" y="13.4">SNX6</text></g>
<g id="t5b22" transform="translate(970,915.8)"><rect class="g" width="79" height="19.9"/><text x="39.5" y="13.4">SSNA1</text></g>
<g id="t5b23" transform="translate(970,935.7)"><rect class="g" width="79" height="19.9"/><text x="39.5" y="13.4">SYNE1</text></g>
<g id="t5b24" transform="translate(970,955.6)"><rect class="g" width="79" height="19.9"/><text x="39.5" y="13.4">TH1L</text></g>
<g id="t5b25" transform="translate(970,975.5)"><rect class="g" width="79" height="19.9"/><text x="39.5" y="13.4">THBS1</text></g>
<g id="t5b26" transform="translate(970,995.4)"><rect class="g" width="79" height="19.9"/><text x="39.5" y="13.4">TPM1</text></g>
<g id="t5b27" transform="translate(970,1015.3)"><rect class="g" width="79" height="19.9"/><text x="39.5" y="13.4">TPM2</text></g>
<g id="t5b28" transform="translate(970,1035.2)"><rect class="g" width="79" height="19.9"/><text x="39.5" y="13.4">TPM3</text></g>
<g id="t5b29" transform="translate(970,1055.1)"><rect class="g" width="79" height="19.9"/><text x="39.5" y="13.4">TPM4</text></g>
<g id="t5b30" transform="translate(970,1075)"><rect class="g" width="79" height="19.9"/><text x="39.5" y="13.4">UHRF1</text></g>
<g id="t5b31" transform="translate(970,1094.9)"><rect class="g" width="79" height="19.9"/><text x="39.5" y="13.4">WDFY1</text></g>
<g id="t5b32" transform="translate(970,1114.8)"><rect class="g" width="79" height="19.9"/><text x="39.5" y="13.4">YWHAQ</text></g>
<g id="t5b33" transform="translate(970,1134.7)"><rect class="g" width="79" height="19.9"/><text x="39.5" y="13.4">HDAC4</text></g>

<!-- Column 6 -->
<g id="m_30a" transform="translate(1164,376)"><rect class="m" width="79" height="19"/><text class="mt" x="39.5" y="13">MIR30A</text></g>
<g id="t6a0" transform="translate(1122,481)"><rect class="g" width="79" height="19.9"/><text x="39.5" y="13.4">AADACL1</text></g>
<g id="t6a1" transform="translate(1122,500.9)"><rect class="g" width="79" height="19.9"/><text x="39.5" y="13.4">ANPEP</text></g>
<g id="t6a2" transform="translate(1122,520.8)"><rect class="g" width="79" height="19.9"/><text x="39.5" y="13.4">ATP2A2</text></g>
<g id="t6a3" transform="translate(1122,540.7)"><rect class="g" width="79" height="19.9"/><text x="39.5" y="13.4">ATRX</text></g>
<g id="t6a4" transform="translate(1122,560.6)"><rect class="g" width="79" height="19.9"/><text x="39.5" y="13.4">CBFB</text></g>
<g id="t6a5" transform="translate(1122,580.5)"><rect class="g" width="79" height="19.9"/><text x="39.5" y="13.4">CDCP1</text></g>
<g id="t6a6" transform="translate(1122,600.4)"><rect class="g" width="79" height="19.9"/><text x="39.5" y="13.4">CHD1</text></g>
<g id="t6a7" transform="translate(1122,620.3)"><rect class="g" width="79" height="19.9"/><text x="39.5" y="13.4">CPNE8</text></g>
<g id="t6a8" transform="translate(1122,640.2)"><rect class="g" width="79" height="19.9"/><text x="39.5" y="13.4">DOCK7</text></g>
<g id="t6a9" transform="translate(1122,660.1)"><rect class="g" width="79" height="19.9"/><text x="39.5" y="13.4">ELMOD2</text></g>
<g id="t6a10" transform="translate(1122,680)"><rect class="g" width="79" height="19.9"/><text x="39.5" y="13.4">FRG1</text></g>
<g id="t6a11" transform="translate(1122,699.9)"><rect class="g" width="79" height="19.9"/><text x="39.5" y="13.4">GALNT1</text></g>
<g id="t6a12" transform="translate(1122,719.8)"><rect class="g" width="79" height="19.9"/><text x="39.5" y="13.4">GALNT7</text></g>
<g id="t6a13" transform="translate(1122,739.7)"><rect class="g" width="79" height="19.9"/><text x="39.5" y="13.4">GPD2</text></g>
<g id="t6a14" transform="translate(1122,759.6)"><rect class="g" width="79" height="19.9"/><text x="39.5" y="13.4">IFRD1</text></g>
<g id="t6a15" transform="translate(1122,779.5)"><rect class="g" width="79" height="19.9"/><text x="39.5" y="13.4">ITGA2</text></g>
<g id="t6a16" transform="translate(1122,799.4)"><rect class="g" width="79" height="19.9"/><text x="39.5" y="13.4">KDELC2</text></g>
<g id="t6a17" transform="translate(1122,819.3)"><rect class="g" width="79" height="19.9"/><text x="39.5" y="13.4">LMNB2</text></g>
<g id="t6a18" transform="translate(1122,839.2)"><rect class="g" width="79" height="19.9"/><text x="39.5" y="13.4">MBNL1</text></g>
<g id="t6a19" transform="translate(1122,859.1)"><rect class="g" width="79" height="19.9"/><text x="39.5" y="13.4">MET</text></g>
<g id="t6a20" transform="translate(1122,879)"><rect class="g" width="79" height="19.9"/><text x="39.5" y="13.4">MYO10</text></g>
<g id="t6a21" transform="translate(1122,898.9)"><rect class="g" width="79" height="19.9"/><text x="39.5" y="13.4">NAPG</text></g>
<g id="t6a22" transform="translate(1122,918.8)"><rect class="g" width="79" height="19.9"/><text x="39.5" y="13.4">NCL</text></g>
<g id="t6a23" transform="translate(1122,938.7)"><rect class="g" width="79" height="19.9"/><text x="39.5" y="13.4">NT5E</text></g>
<g id="t6a24" transform="translate(1122,958.6)"><rect class="g" width="79" height="19.9"/><text x="39.5" y="13.4">NUCB1</text></g>
<g id="t6a25" transform="translate(1122,978.5)"><rect class="g" width="79" height="19.9"/><text x="39.5" y="13.4">NUFIP2</text></g>
<g id="t6a26" transform="translate(1122,998.4)"><rect class="g" width="79" height="19.9"/><text x="39.5" y="13.4">P4HA2</text></g>
<g id="t6a27" transform="translate(1122,1018.3)"><rect class="g" width="79" height="19.9"/><text x="39.5" y="13.4">PAFAH1B2</text></g>
<g id="t6a28" transform="translate(1122,1038.2)"><rect class="g" width="79" height="19.9"/><text x="39.5" y="13.4">PGM1</text></g>
<g id="t6a29" transform="translate(1122,1058.1)"><rect class="g" width="79" height="19.9"/><text x="39.5" y="13.4">ZNF294</text></g>
<g id="t6b0" transform="translate(1209,481)"><rect class="g" width="79" height="19.9"/><text x="39.5" y="13.4">PPP2R4</text></g>
<g id="t6b1" transform="translate(1209,500.9)"><rect class="g" width="79" height="19.9"/><text x="39.5" y="13.4">PPP3CA</text></g>
<g id="t6b2" transform="translate(1209,520.8)"><rect class="g" width="79" height="19.9"/><text x="39.5" y="13.4">RAB27B</text></g>
<g id="t6b3" transform="translate(1209,540.7)"><rect class="g" width="79" height="19.9"/><text x="39.5" y="13.4">RAD23B</text></g>
<g id="t6b4" transform="translate(1209,560.6)"><rect class="g" width="79" height="19.9"/><text x="39.5" y="13.4">RBMS1</text></g>
<g id="t6b5" transform="translate(1209,580.5)"><rect class="g" width="79" height="19.9"/><text x="39.5" y="13.4">RQCD1</text></g>
<g id="t6b6" transform="translate(1209,600.4)"><rect class="g" width="79" height="19.9"/><text x="39.5" y="13.4">SEC23A</text></g>
<g id="t6b7" transform="translate(1209,620.3)"><rect class="g" width="79" height="19.9"/><text x="39.5" y="13.4">SLC12A4</text></g>
<g id="t6b8" transform="translate(1209,640.2)"><rect class="g" width="79" height="19.9"/><text x="39.5" y="13.4">SLC38A1</text></g>
<g id="t6b9" transform="translate(1209,660.1)"><rect class="g" width="79" height="19.9"/><text x="39.5" y="13.4">SLC38A2</text></g>
<g id="t6b10" transform="translate(1209,680)"><rect class="g" width="79" height="19.9"/><text x="39.5" y="13.4">SLC4A10</text></g>
<g id="t6b11" transform="translate(1209,699.9)"><rect class="g" width="79" height="19.9"/><text x="39.5" y="13.4">SLC4A7</text></g>
<g id="t6b12" transform="translate(1209,719.8)"><rect class="g" width="79" height="19.9"/><text x="39.5" y="13.4">SLC7A11</text></g>
<g id="t6b13" transform="translate(1209,739.7)"><rect class="g" width="79" height="19.9"/><text x="39.5" y="13.4">SLC9A3R2</text></g>
<g id="t6b14" transform="translate(1209,759.6)"><rect class="g" width="79" height="19.9"/><text x="39.5" y="13.4">SLC9A3R2</text></g>
<g id="t6b15" transform="translate(1209,779.5)"><rect class="g" width="79" height="19.9"/><text x="39.5" y="13.4">STRN</text></g>
<g id="t6b16" transform="translate(1209,799.4)"><rect class="g" width="79" height="19.9"/><text x="39.5" y="13.4">STX7</text></g>
<g id="t6b17" transform="translate(1209,819.3)"><rect class="g" width="79" height="19.9"/><text x="39.5" y="13.4">SYPL1</text></g>
<g id="t6b18" transform="translate(1209,839.2)"><rect class="g" width="79" height="19.9"/><text x="39.5" y="13.4">TLOC1</text></g>
<g id="t6b19" transform="translate(1209,859.1)"><rect class="g" width="79" height="19.9"/><text x="39.5" y="13.4">TMED10</text></g>
<g id="t6b20" transform="translate(1209,879)"><rect class="g" width="79" height="19.9"/><text x="39.5" y="13.4">TMED2</text></g>
<g id="t6b21" transform="translate(1209,898.9)"><rect class="g" width="79" height="19.9"/><text x="39.5" y="13.4">TMED3</text></g>
<g id="t6b22" transform="translate(1209,918.8)"><rect class="g" width="79" height="19.9"/><text x="39.5" y="13.4">TMED7</text></g>
<g id="t6b23" transform="translate(1209,938.7)"><rect class="g" width="79" height="19.9"/><text x="39.5" y="13.4">TICAM2</text></g>
<g id="t6b24" transform="translate(1209,958.6)"><rect class="g" width="79" height="19.9"/><text x="39.5" y="13.4">TMEM41B</text></g>
<g id="t6b25" transform="translate(1209,978.5)"><rect class="g" width="79" height="19.9"/><text x="39.5" y="13.4">TMEM87A</text></g>
<g id="t6b26" transform="translate(1209,998.4)"><rect class="g" width="79" height="19.9"/><text x="39.5" y="13.4">TNFAIP2</text></g>
<g id="t6b27" transform="translate(1209,1018.3)"><rect class="g" width="79" height="19.9"/><text x="39.5" y="13.4">TNFRSF10B</text></g>
<g id="t6b28" transform="translate(1209,1038.2)"><rect class="g" width="79" height="19.9"/><text x="39.5" y="13.4">UAP1</text></g>
<g id="t6b29" transform="translate(1209,1058.1)"><rect class="g" width="79" height="19.9"/><text x="39.5" y="13.4">WNT5A</text></g>

<!-- Column 7 -->
<g id="m_101_1" transform="translate(1366,371)"><rect class="m" width="79" height="20"/><text class="mt" x="39.5" y="13.5">MIR101-1</text></g>
<g id="m_101_2" transform="translate(1366,391)"><rect class="m" width="79" height="20"/><text class="mt" x="39.5" y="13.5">MIR101-2</text></g>
<g id="t7_ezh2" transform="translate(1366,456)"><rect class="g" width="79" height="19.5"/><text x="39.5" y="13.3">EZH2 / Enx-1</text></g>
<g id="m_106a" transform="translate(1366,508)"><rect class="m" width="79" height="19.5"/><text class="mt" x="39.5" y="13.3">MIR106A</text></g>
<g id="t7_rb1" transform="translate(1366,568)"><rect class="g" width="79" height="20"/><text x="39.5" y="13.5">RB1</text></g>
<g id="t7_arid4b" transform="translate(1355,588)"><rect class="g" width="100" height="19.5"/><text x="50" y="13.3">ARID4B / Rbp1-like</text></g>
<g id="t7_mylip" transform="translate(1366,607.5)"><rect class="g" width="79" height="19.8"/><text x="39.5" y="13.4">MYLIP</text></g>
<g id="t7_hipk3" transform="translate(1366,627.3)"><rect class="g" width="79" height="19.8"/><text x="39.5" y="13.4">HIPK3</text></g>
<g id="t7_cdkn1a" transform="translate(1366,647.1)"><rect class="g" width="79" height="19.8"/><text x="39.5" y="13.4">CDKN1A / p21</text></g>
<g id="m_106b" transform="translate(1366,702)"><rect class="m" width="79" height="19"/><text class="mt" x="39.5" y="13">MIR106B</text></g>
<g id="t7_cdkn1a_2" transform="translate(1366,756)"><rect class="g" width="79" height="19"/><text x="39.5" y="13">CDKN1A / p21</text></g>
<g id="m_107" transform="translate(1366,808)"><rect class="m" width="79" height="20"/><text class="mt" x="39.5" y="13.5">MIR107</text></g>
<g id="t7_nfia" transform="translate(1366,861)"><rect class="g" width="79" height="19.5"/><text x="39.5" y="13.3">NFIA / NF1-A</text></g>
<g id="t7_bace1" transform="translate(1343,880.5)"><rect class="g" width="125" height="19.5"/><text x="62.5" y="13.3">BACE1 / Beta-Secretase 1</text></g>
<g id="m_122" transform="translate(1366,932)"><rect class="m" width="79" height="20"/><text class="mt" x="39.5" y="13.5">MIR122</text></g>
<g id="t7_ccng1" transform="translate(1366,990)"><rect class="g" width="79" height="19.5"/><text x="39.5" y="13.3">CCNG1</text></g>
<g id="m_124_1" transform="translate(1366,1042)"><rect class="m" width="79" height="20"/><text class="mt" x="39.5" y="13.5">MIR124-1</text></g>
<g id="m_124_2" transform="translate(1366,1062)"><rect class="m" width="79" height="20"/><text class="mt" x="39.5" y="13.5">MIR124-2</text></g>
<g id="m_124_3" transform="translate(1366,1082)"><rect class="m" width="79" height="19.5"/><text class="mt" x="39.5" y="13.3">MIR124-3</text></g>
<g id="t7_mtpn" transform="translate(1366,1145)"><rect class="g" width="79" height="19.9"/><text x="39.5" y="13.4">MTPN</text></g>
<g id="t7_mapk14" transform="translate(1366,1164.9)"><rect class="g" width="79" height="19.9"/><text x="39.5" y="13.4">MAPK14</text></g>
<g id="t7_nm014445" transform="translate(1366,1184.8)"><rect class="g" width="79" height="19.9"/><text x="39.5" y="13.4">NM_014445</text></g>
<g id="t7_acaa2" transform="translate(1366,1204.7)"><rect class="g" width="79" height="19.9"/><text x="39.5" y="13.4">ACAA2</text></g>
<g id="t7_cd164" transform="translate(1366,1224.6)"><rect class="g" width="79" height="19.9"/><text x="39.5" y="13.4">CD164</text></g>
<g id="t7_lamc1" transform="translate(1346,1244.5)"><rect class="g" width="118" height="19.9"/><text x="59" y="13.4">LAMC1 / laminin gamma</text></g>
<g id="t7_nm032121" transform="translate(1366,1264.4)"><rect class="g" width="79" height="19.9"/><text x="39.5" y="13.4">NM_032121</text></g>
<g id="t7_atp6v0e" transform="translate(1366,1284.3)"><rect class="g" width="79" height="19.9"/><text x="39.5" y="13.4">ATP6V0E</text></g>
<g id="t7_nm018211" transform="translate(1366,1304.2)"><rect class="g" width="79" height="19.9"/><text x="39.5" y="13.4">NM_018211</text></g>
<g id="t7_rdh10" transform="translate(1366,1324.1)"><rect class="g" width="79" height="19.9"/><text x="39.5" y="13.4">RDH10</text></g>

<!-- Column 8 -->
<g id="m_125a" transform="translate(1532,374)"><rect class="m" width="79" height="19"/><text class="mt" x="39.5" y="13">MIR125A</text></g>
<g id="t8_erbb3" transform="translate(1532,439)"><rect class="g" width="79" height="20"/><text x="39.5" y="13.5">ERBB3</text></g>
<g id="t8_erbb2" transform="translate(1532,459)"><rect class="g" width="79" height="19"/><text x="39.5" y="13">ERBB2</text></g>
<g id="m_129_1" transform="translate(1532,517)"><rect class="m" width="79" height="20"/><text class="mt" x="39.5" y="13.5">MIR129-1</text></g>
<g id="m_129_2" transform="translate(1532,537)"><rect class="m" width="79" height="20"/><text class="mt" x="39.5" y="13.5">MIR129-2</text></g>
<g id="t8_camta1" transform="translate(1532,602)"><rect class="g" width="79" height="20"/><text x="39.5" y="13.5">CAMTA1</text></g>
<g id="t8_eif2c3" transform="translate(1532,622)"><rect class="g" width="79" height="19"/><text x="39.5" y="13">EIF2C3</text></g>
<g id="m_130a" transform="translate(1532,673)"><rect class="m" width="79" height="20"/><text class="mt" x="39.5" y="13.5">MIR130A</text></g>
<g id="m_130b" transform="translate(1532,693)"><rect class="m" width="79" height="20"/><text class="mt" x="39.5" y="13.5">MIR130B</text></g>
<g id="t8_csf1" transform="translate(1532,755)"><rect class="g" width="79" height="19"/><text x="39.5" y="13">CSF1 / MCSF</text></g>
<g id="m_133a1" transform="translate(1532,814)"><rect class="m" width="79" height="20"/><text class="mt" x="39.5" y="13.5">MIR133A1</text></g>
<g id="m_133a2" transform="translate(1532,834)"><rect class="m" width="79" height="20"/><text class="mt" x="39.5" y="13.5">MIR133A2</text></g>
<g id="m_133b" transform="translate(1532,854)"><rect class="m" width="79" height="19"/><text class="mt" x="39.5" y="13">MIR133B</text></g>
<g id="t8_srf" transform="translate(1532,925)"><rect class="g" width="79" height="20"/><text x="39.5" y="13.5">SRF</text></g>
<g id="t8_ptbp2" transform="translate(1532,945)"><rect class="g" width="79" height="20"/><text x="39.5" y="13.5">PTBP2</text></g>
<g id="t8_erg" transform="translate(1532,965)"><rect class="g" width="79" height="19"/><text x="39.5" y="13">ERG</text></g>
<g id="m_133a1_2" transform="translate(1532,1021)"><rect class="m" width="79" height="20"/><text class="mt" x="39.5" y="13.5">MIR133A1</text></g>
<g id="m_133a2_2" transform="translate(1532,1041)"><rect class="m" width="79" height="19"/><text class="mt" x="39.5" y="13">MIR133A2</text></g>
<g id="t8_pkm2" transform="translate(1532,1103)"><rect class="g" width="79" height="20"/><text x="39.5" y="13.5">PKM2</text></g>
<g id="m_133b_2" transform="translate(1532,1163)"><rect class="m" width="79" height="20"/><text class="mt" x="39.5" y="13.5">MIR133B</text></g>
<g id="t8_pkm2_2" transform="translate(1532,1223)"><rect class="g" width="79" height="19"/><text x="39.5" y="13">PKM2</text></g>
<g id="m_140" transform="translate(1532,1277)"><rect class="m" width="79" height="20"/><text class="mt" x="39.5" y="13.5">MIR140</text></g>
<g id="t8_hdac4" transform="translate(1532,1336)"><rect class="g" width="79" height="19"/><text x="39.5" y="13">HDAC4</text></g>

<!-- Column 9 -->
<g id="m_141" transform="translate(1689,375.5)"><rect class="m" width="79" height="19.5"/><text class="mt" x="39.5" y="13.3">MIR141</text></g>
<g id="t9_clock" transform="translate(1689,431)"><rect class="g" width="79" height="20"/><text x="39.5" y="13.5">CLOCK</text></g>
<g id="m_143" transform="translate(1689,487)"><rect class="m" width="79" height="20"/><text class="mt" x="39.5" y="13.5">MIR143</text></g>
<g id="t9_mapk12" transform="translate(1689,552.5)"><rect class="g" width="79" height="19.5"/><text x="39.5" y="13.3">MAPK12 / ERK5</text></g>
<g id="t9_mapk7" transform="translate(1689,572)"><rect class="g" width="79" height="20"/><text x="39.5" y="13.5">MAPK7</text></g>
<g id="m_145" transform="translate(1689,633)"><rect class="m" width="79" height="20"/><text class="mt" x="39.5" y="13.5">MIR145</text></g>
<g id="t9_irs1" transform="translate(1689,691)"><rect class="g" width="79" height="20"/><text x="39.5" y="13.5">IRS1</text></g>
<g id="m_15a" transform="translate(1689,744)"><rect class="m" width="79" height="19"/><text class="mt" x="39.5" y="13">MIR15A</text></g>
<g id="m_15b" transform="translate(1689,763)"><rect class="m" width="79" height="20"/><text class="mt" x="39.5" y="13.5">MIR15B</text></g>
<g id="t9_dmtf1" transform="translate(1689,821.5)"><rect class="g" width="79" height="19.5"/><text x="39.5" y="13.3">DMTF1</text></g>
<g id="t9_bcl2" transform="translate(1689,841)"><rect class="g" width="79" height="19"/><text x="39.5" y="13">BCL2</text></g>
<g id="m_15b_2" transform="translate(1689,897)"><rect class="m" width="79" height="19.5"/><text class="mt" x="39.5" y="13.3">MIR15B</text></g>
<g id="t9_bcl2_2" transform="translate(1689,958)"><rect class="g" width="79" height="20"/><text x="39.5" y="13.5">BCL2</text></g>
<g id="m_17" transform="translate(1689,1009.5)"><rect class="m" width="79" height="19.5"/><text class="mt" x="39.5" y="13.3">MIR17</text></g>
<g id="t9_e2f1" transform="translate(1689,1077)"><rect class="g" width="79" height="20"/><text x="39.5" y="13.5">E2F1</text></g>
<g id="t9_ncoa3" transform="translate(1689,1097)"><rect class="g" width="79" height="19"/><text x="39.5" y="13">NCOA3 / AIB1</text></g>
<g id="t9_cdkn1a" transform="translate(1689,1116)"><rect class="g" width="79" height="20"/><text x="39.5" y="13.5">CDKN1A / p21</text></g>
<g id="m_92a2" transform="translate(1689,1168)"><rect class="m" width="79" height="19"/><text class="mt" x="39.5" y="13">MIR92A2</text></g>
<g id="t9_hipk3" transform="translate(1689,1225)"><rect class="g" width="79" height="19"/><text x="39.5" y="13">HIPK3</text></g>
<g id="t9_mylip" transform="translate(1689,1244)"><rect class="g" width="79" height="20"/><text x="39.5" y="13.5">MYLIP</text></g>
<g id="m_9_1" transform="translate(1689,1297)"><rect class="m" width="79" height="20"/><text class="mt" x="39.5" y="13.5">MIR9-1</text></g>
<g id="m_9_2" transform="translate(1689,1317)"><rect class="m" width="79" height="20"/><text class="mt" x="39.5" y="13.5">MIR9-2</text></g>
<g id="m_9_3" transform="translate(1689,1337)"><rect class="m" width="79" height="20"/><text class="mt" x="39.5" y="13.5">MIR9-3</text></g>
<g id="t9_bace1" transform="translate(1689,1391)"><rect class="g" width="79" height="20"/><text x="39.5" y="13.5">BACE1</text></g>

<!-- Column 10 -->
<g id="m_181b1" transform="translate(1846,376)"><rect class="m" width="79" height="19.5"/><text class="mt" x="39.5" y="13.3">MIR181B1</text></g>
<g id="m_181b2" transform="translate(1846,395.5)"><rect class="m" width="79" height="20"/><text class="mt" x="39.5" y="13.5">MIR181B2</text></g>
<g id="t10_vsnl1" transform="translate(1846,457.5)"><rect class="g" width="79" height="19.5"/><text x="39.5" y="13.3">VSNL1</text></g>
<g id="t10_gria2" transform="translate(1846,477)"><rect class="g" width="79" height="19"/><text x="39.5" y="13">GRIA2</text></g>
<g id="m_199a1" transform="translate(1846,537)"><rect class="m" width="79" height="20"/><text class="mt" x="39.5" y="13.5">MIR199A1</text></g>
<g id="m_199a2" transform="translate(1846,557)"><rect class="m" width="79" height="19.6"/><text class="mt" x="39.5" y="13.3">MIR199A2</text></g>
<g id="t10_met" transform="translate(1846,613)"><rect class="g" width="79" height="20"/><text x="39.5" y="13.5">MET</text></g>
<g id="m_199b" transform="translate(1846,659)"><rect class="m" width="79" height="20"/><text class="mt" x="39.5" y="13.5">MIR199B</text></g>
<g id="t10_lamc2" transform="translate(1846,713.6)"><rect class="g" width="79" height="19.4"/><text x="39.5" y="13.2">LAMC2</text></g>
<g id="m_19b2" transform="translate(1846,768)"><rect class="m" width="79" height="20"/><text class="mt" x="39.5" y="13.5">MIR19B2</text></g>
<g id="t10_hipk3" transform="translate(1846,832.5)"><rect class="g" width="79" height="19.5"/><text x="39.5" y="13.3">HIPK3</text></g>
<g id="t10_mylip" transform="translate(1846,852)"><rect class="g" width="79" height="20"/><text x="39.5" y="13.5">MYLIP</text></g>
<g id="m_1_1b" transform="translate(1846,903)"><rect class="m" width="79" height="20"/><text class="mt" x="39.5" y="13.5">MIR1-1</text></g>
<g id="t10_g6pd" transform="translate(1846,959)"><rect class="g" width="79" height="19.5"/><text x="39.5" y="13.3">G6PD</text></g>
<g id="m_20a" transform="translate(1846,1011.5)"><rect class="m" width="79" height="19.5"/><text class="mt" x="39.5" y="13.3">MIR20A</text></g>
<g id="m_20b" transform="translate(1846,1031)"><rect class="m" width="79" height="20"/><text class="mt" x="39.5" y="13.5">MIR20B</text></g>
<g id="t10_e2f1" transform="translate(1846,1087.7)"><rect class="g" width="79" height="19.3"/><text x="39.5" y="13.2">E2F1</text></g>
<g id="m_200a" transform="translate(1846,1137)"><rect class="m" width="79" height="20"/><text class="mt" x="39.5" y="13.5">MIR200A</text></g>
<g id="t10_zeb1a" transform="translate(1846,1188)"><rect class="g" width="79" height="19"/><text x="39.5" y="13">ZEB1 / TCF8</text></g>
<g id="m_200b" transform="translate(1846,1240)"><rect class="m" width="79" height="19.5"/><text class="mt" x="39.5" y="13.3">MIR200B</text></g>
<g id="t10_zeb1b" transform="translate(1846,1294)"><rect class="g" width="79" height="19"/><text x="39.5" y="13">ZEB1 / TCF8</text></g>
<g id="m_200c" transform="translate(1846,1340)"><rect class="m" width="79" height="20"/><text class="mt" x="39.5" y="13.5">MIR200C</text></g>
<g id="t10_zeb1c" transform="translate(1846,1394)"><rect class="g" width="79" height="19"/><text x="39.5" y="13">ZEB1 / TCF8</text></g>

<!-- Column 11 -->
<g id="m_206" transform="translate(1989,377)"><rect class="m" width="79" height="19.5"/><text class="mt" x="39.5" y="13.3">MIR206</text></g>
<g id="t11_fstl1" transform="translate(1989,438)"><rect class="g" width="79" height="19.5"/><text x="39.5" y="13.3">FSTL1</text></g>
<g id="t11_gja1" transform="translate(1989,457.5)"><rect class="g" width="79" height="20"/><text x="39.5" y="13.5">GJA1</text></g>
<g id="t11_esr1" transform="translate(1989,477.5)"><rect class="g" width="79" height="19.5"/><text x="39.5" y="13.3">ESR1</text></g>
<g id="m_20a_2" transform="translate(1989,531)"><rect class="m" width="79" height="19"/><text class="mt" x="39.5" y="13">MIR20A</text></g>
<g id="t11_tgfbr2" transform="translate(1989,586)"><rect class="g" width="79" height="20"/><text x="39.5" y="13.5">TGFBR2</text></g>
<g id="m_20b_2" transform="translate(1989,647)"><rect class="m" width="79" height="19"/><text class="mt" x="39.5" y="13">MIR20B</text></g>
<g id="t11_arid4b" transform="translate(1981,704)"><rect class="g" width="94" height="19"/><text x="47" y="13">ARID4B / Rbp1-like</text></g>
<g id="t11_mylip" transform="translate(1989,723)"><rect class="g" width="79" height="20"/><text x="39.5" y="13.5">MYLIP</text></g>
<g id="t11_hipk3" transform="translate(1989,743)"><rect class="g" width="79" height="20"/><text x="39.5" y="13.5">HIPK3</text></g>
<g id="t11_cdkn1a" transform="translate(1989,763)"><rect class="g" width="79" height="20"/><text x="39.5" y="13.5">CDKN1A / p21</text></g>
<g id="m_21" transform="translate(1989,821)"><rect class="m" width="79" height="19"/><text class="mt" x="39.5" y="13">MIR21</text></g>
<g id="t11_tpm1" transform="translate(1989,883)"><rect class="g" width="79" height="20"/><text x="39.5" y="13.5">TPM1</text></g>
<g id="t11_pdcd4" transform="translate(1989,903)"><rect class="g" width="79" height="19"/><text x="39.5" y="13">PDCD4</text></g>
<g id="m_221" transform="translate(1989,954)"><rect class="m" width="79" height="19"/><text class="mt" x="39.5" y="13">MIR221</text></g>
<g id="t11_kit" transform="translate(1989,1019.5)"><rect class="g" width="79" height="19.5"/><text x="39.5" y="13.3">KIT</text></g>
<g id="t11_cdkn1b" transform="translate(1977,1039.5)"><rect class="g" width="103" height="19.5"/><text x="51.5" y="13.3">CDKN1B / KIP1, p2</text></g>
<g id="m_222" transform="translate(1989,1097)"><rect class="m" width="79" height="19"/><text class="mt" x="39.5" y="13">MIR222</text></g>
<g id="t11_kit_2" transform="translate(1989,1158)"><rect class="g" width="79" height="19.5"/><text x="39.5" y="13.3">KIT</text></g>
<g id="t11_cdkn1b_2" transform="translate(1979,1178)"><rect class="g" width="99" height="19.5"/><text x="49.5" y="13.3">CDKN1B / KIP1, p2</text></g>
<g id="m_223" transform="translate(1989,1237)"><rect class="m" width="79" height="20"/><text class="mt" x="39.5" y="13.5">MIR223</text></g>
<g id="t11_nfia" transform="translate(1989,1294)"><rect class="g" width="79" height="20"/><text x="39.5" y="13.5">NFIA</text></g>
<g id="m_23a" transform="translate(1989,1354)"><rect class="m" width="79" height="19.5"/><text class="mt" x="39.5" y="13.3">MIR23A</text></g>
<g id="m_23b" transform="translate(1989,1373.5)"><rect class="m" width="79" height="19.5"/><text class="mt" x="39.5" y="13.3">MIR23B</text></g>
<g id="t11_hes1" transform="translate(1989,1443.5)"><rect class="g" width="79" height="19.5"/><text x="39.5" y="13.3">HES1</text></g>

<!-- Column 12 -->
<g id="m_23a_2" transform="translate(2130,380)"><rect class="m" width="79" height="19"/><text class="mt" x="39.5" y="13">MIR23A</text></g>
<g id="t12_cxcl12" transform="translate(2130,430)"><rect class="g" width="79" height="19"/><text x="39.5" y="13">CXCL12</text></g>
<g id="m_23b_2" transform="translate(2130,462.6)"><rect class="m" width="79" height="19.4"/><text class="mt" x="39.5" y="13.2">MIR23B</text></g>
<g id="t12_notch1a" transform="translate(2130,517)"><rect class="g" width="79" height="19"/><text x="39.5" y="13">NOTCH1</text></g>
<g id="m_24_1" transform="translate(2130,562)"><rect class="m" width="79" height="19"/><text class="mt" x="39.5" y="13">MIR24-1</text></g>
<g id="m_24_2" transform="translate(2130,581)"><rect class="m" width="79" height="20"/><text class="mt" x="39.5" y="13.5">MIR24-2</text></g>
<g id="t12_mapk14" transform="translate(2130,638)"><rect class="g" width="79" height="19.5"/><text x="39.5" y="13.3">MAPK14</text></g>
<g id="t12_notch1b" transform="translate(2130,657.5)"><rect class="g" width="79" height="20"/><text x="39.5" y="13.5">NOTCH1</text></g>
<g id="t12_alk4" transform="translate(2130,677.5)"><rect class="g" width="79" height="19.5"/><text x="39.5" y="13.3">ALK4</text></g>
<g id="m_26a1" transform="translate(2130,731.5)"><rect class="m" width="79" height="19.5"/><text class="mt" x="39.5" y="13.3">MIR26A1</text></g>
<g id="m_26a2" transform="translate(2130,751)"><rect class="m" width="79" height="20"/><text class="mt" x="39.5" y="13.5">MIR26A2</text></g>
<g id="t12_ezh2" transform="translate(2130,804)"><rect class="g" width="79" height="19"/><text x="39.5" y="13">Ezh2</text></g>
<g id="m_27b" transform="translate(2130,865)"><rect class="m" width="79" height="19.4"/><text class="mt" x="39.5" y="13.2">MIR27B</text></g>
<g id="t12_cyp1b1" transform="translate(2130,916)"><rect class="g" width="79" height="20"/><text x="39.5" y="13.5">CYP1B1</text></g>
<g id="t12_notch1c" transform="translate(2130,936)"><rect class="g" width="79" height="19.5"/><text x="39.5" y="13.3">NOTCH1</text></g>
<g id="m_29a" transform="translate(2130,975.5)"><rect class="m" width="79" height="19.5"/><text class="mt" x="39.5" y="13.3">MIR29A</text></g>
<g id="t12_dnmt3a" transform="translate(2130,1034.7)"><rect class="g" width="79" height="19.3"/><text x="39.5" y="13.2">DNMT3A</text></g>
<g id="t12_bace1" transform="translate(2130,1054)"><rect class="g" width="79" height="20"/><text x="39.5" y="13.5">BACE1</text></g>
<g id="m_29b1" transform="translate(2130,1100.5)"><rect class="m" width="79" height="19.5"/><text class="mt" x="39.5" y="13.3">MIR29B1</text></g>
<g id="m_29b2" transform="translate(2130,1120)"><rect class="m" width="79" height="20"/><text class="mt" x="39.5" y="13.5">MIR29B2</text></g>
<g id="t12_mcl1" transform="translate(2130,1182)"><rect class="g" width="79" height="19"/><text x="39.5" y="13">Mcl1</text></g>
<g id="t12_dnmt3a_2" transform="translate(2130,1201)"><rect class="g" width="79" height="20"/><text x="39.5" y="13.5">DNMT3A</text></g>
<g id="m_29b1_2" transform="translate(2130,1247)"><rect class="m" width="79" height="19"/><text class="mt" x="39.5" y="13">MIR29B1</text></g>
<g id="t12_bace1_2" transform="translate(2130,1307)"><rect class="g" width="79" height="19.5"/><text x="39.5" y="13.3">BACE1</text></g>
<g id="m_520h" transform="translate(2130,1369)"><rect class="m" width="79" height="19"/><text class="mt" x="39.5" y="13">MIR520H</text></g>
<g id="t12_abcg2" transform="translate(2130,1421)"><rect class="g" width="79" height="19.5"/><text x="39.5" y="13.3">ABCG2</text></g>

<!-- Column 13 -->
<g id="m_29c" transform="translate(2267,381)"><rect class="m" width="79" height="19"/><text class="mt" x="39.5" y="13">MIR29C</text></g>
<g id="t13_dnmt3a" transform="translate(2267,437.5)"><rect class="g" width="79" height="20"/><text x="39.5" y="13.5">DNMT3A</text></g>
<g id="t13_lamc1" transform="translate(2244,457.5)"><rect class="g" width="126" height="19.5"/><text x="63" y="13.3">LAMC1 / laminin gamma</text></g>
<g id="t13_fusip1" transform="translate(2267,477)"><rect class="g" width="79" height="20"/><text x="39.5" y="13.5">FUSIP1</text></g>
<g id="t13_sparc" transform="translate(2267,497)"><rect class="g" width="79" height="20"/><text x="39.5" y="13.5">SPARC</text></g>
<g id="t13_col1a2" transform="translate(2267,517)"><rect class="g" width="79" height="20"/><text x="39.5" y="13.5">COL1A2</text></g>
<g id="t13_col1a1" transform="translate(2267,537)"><rect class="g" width="79" height="20"/><text x="39.5" y="13.5">COL1A1</text></g>
<g id="t13_tdg" transform="translate(2267,557)"><rect class="g" width="79" height="19.6"/><text x="39.5" y="13.3">TDG</text></g>
<g id="t13_col3a1" transform="translate(2267,576.6)"><rect class="g" width="79" height="19.9"/><text x="39.5" y="13.4">COL3A1</text></g>
<g id="m_30a_2" transform="translate(2267,612)"><rect class="m" width="79" height="19"/><text class="mt" x="39.5" y="13">MIR30A</text></g>
<g id="t13_cyr61" transform="translate(2267,669)"><rect class="g" width="79" height="20"/><text x="39.5" y="13.5">cyr61</text></g>
<g id="t13_thbs1" transform="translate(2267,689)"><rect class="g" width="79" height="20"/><text x="39.5" y="13.5">THBS1</text></g>
<g id="t13_slc7a6" transform="translate(2267,709)"><rect class="g" width="79" height="20"/><text x="39.5" y="13.5">SLC7A6</text></g>
<g id="t13_tmem113" transform="translate(2257,729)"><rect class="g" width="101" height="19.4"/><text x="50.5" y="13.2">TMEM113 p/ ro2730</text></g>
<g id="t13_cdk6" transform="translate(2267,748.4)"><rect class="g" width="79" height="19.8"/><text x="39.5" y="13.4">CDK6</text></g>
<g id="t13_vezt" transform="translate(2267,768.2)"><rect class="g" width="79" height="19.8"/><text x="39.5" y="13.4">VEZT / vezatin</text></g>
<g id="m_34a" transform="translate(2267,812)"><rect class="m" width="79" height="19"/><text class="mt" x="39.5" y="13">MIR34A</text></g>
<g id="m_34b" transform="translate(2267,831)"><rect class="m" width="79" height="20"/><text class="mt" x="39.5" y="13.5">MIR34B</text></g>
<g id="m_34c" transform="translate(2267,851)"><rect class="m" width="79" height="19"/><text class="mt" x="39.5" y="13">MIR34C</text></g>
<g id="t13_notch1" transform="translate(2267,902)"><rect class="g" width="79" height="19.5"/><text x="39.5" y="13.3">NOTCH1</text></g>
<g id="m_34a_2" transform="translate(2267,941)"><rect class="m" width="79" height="20"/><text class="mt" x="39.5" y="13.5">MIR34A</text></g>
<g id="t13_e2f3" transform="translate(2267,996)"><rect class="g" width="79" height="19"/><text x="39.5" y="13">E2F3</text></g>
<g id="t13_cdk6_2" transform="translate(2267,1015)"><rect class="g" width="79" height="20"/><text x="39.5" y="13.5">CDK6</text></g>
<g id="t13_ccnd1" transform="translate(2260,1035)"><rect class="g" width="95" height="20"/><text x="47.5" y="13.5">CCND1 / Cyclin D1</text></g>
<g id="m_372" transform="translate(2267,1089)"><rect class="m" width="79" height="20"/><text class="mt" x="39.5" y="13.5">MIR372</text></g>
<g id="t13_cdkn1a" transform="translate(2267,1140.5)"><rect class="g" width="79" height="19.5"/><text x="39.5" y="13.3">CDKN1A / p21</text></g>
<g id="m_375" transform="translate(2267,1188)"><rect class="m" width="79" height="19"/><text class="mt" x="39.5" y="13">MIR375</text></g>
<g id="t13_mtpn" transform="translate(2267,1239)"><rect class="g" width="79" height="20"/><text x="39.5" y="13.5">MTPN</text></g>
<g id="t13_c1qbp" transform="translate(2267,1259)"><rect class="g" width="79" height="20"/><text x="39.5" y="13.5">C1QBP</text></g>
<g id="t13_adipor2" transform="translate(2267,1279)"><rect class="g" width="79" height="20"/><text x="39.5" y="13.5">ADIPOR2</text></g>
<g id="t13_usp1" transform="translate(2267,1299)"><rect class="g" width="79" height="20"/><text x="39.5" y="13.5">USP1</text></g>
<g id="m_378a" transform="translate(2267,1351)"><rect class="m" width="79" height="19.6"/><text class="mt" x="39.5" y="13.3">MIR378A</text></g>
<g id="t13_tusc2" transform="translate(2253,1400.5)"><rect class="g" width="109" height="20"/><text x="54.5" y="13.5">TUSC2 / Fus1 , Fusion</text></g>
</svg>
